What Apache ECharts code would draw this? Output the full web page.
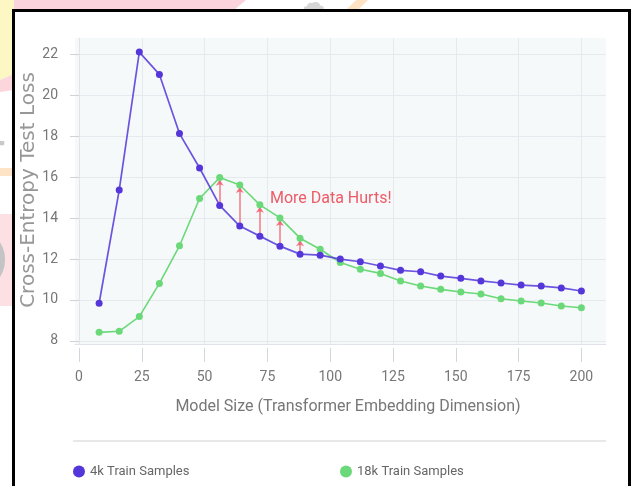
<!DOCTYPE html>
<html>
<head>
<meta charset="utf-8">
<script src="https://cdn.jsdelivr.net/npm/echarts@6/dist/echarts.min.js"></script>
<style>
  html, body { margin: 0; padding: 0; background: #ffffff; }
  #chart { width: 632px; height: 486px; }
</style>
</head>
<body>
<div id="chart"></div>
<script>
// Model size (embedding dimension) for each run
const modelSize = [8, 16, 24, 32, 40, 48, 56, 64, 72, 80, 88, 96, 104, 112, 120, 128, 136, 144, 152, 160, 168, 176, 184, 192, 200];
// Test loss, 4k training samples
const loss4k = [9.84, 15.37, 22.11, 21.02, 18.13, 16.45, 14.62, 13.61, 13.12, 12.63, 12.24, 12.19, 12.0, 11.87, 11.66, 11.45, 11.38, 11.17, 11.06, 10.93, 10.83, 10.73, 10.68, 10.59, 10.44];
// Test loss, 18k training samples
const loss18k = [8.42, 8.47, 9.19, 10.81, 12.65, 14.96, 15.98, 15.62, 14.65, 14.01, 13.02, 12.48, 11.83, 11.5, 11.3, 10.93, 10.68, 10.52, 10.39, 10.29, 10.06, 9.95, 9.85, 9.71, 9.62];
// Axis tick labels
const xTicks = [0, 25, 50, 75, 100, 125, 150, 175, 200];
const yTicks = [8, 10, 12, 14, 16, 18, 20, 22];
// Runs where the larger training set gives a higher loss
const hurtIndex = [6, 7, 8, 9, 10];

const FONT = "'Roboto', sans-serif";
const BLUE = '#5537d9';
const GREEN = '#6bd979';

const arrows = hurtIndex.map(i => ({
  coords: [[modelSize[i], loss4k[i]], [modelSize[i], loss18k[i] - 0.1]]
}));

const chart = echarts.init(document.getElementById('chart'), null, { renderer: 'canvas' });

chart.setOption({
  animation: false,
  backgroundColor: '#ffffff',
  graphic: [
    // page decoration behind the framed chart
    { type: 'polygon', z: -10, shape: { points: [[0, 0], [246, 0], [234, 10], [0, 10]] }, style: { fill: '#fbd3dc' } },
    { type: 'polygon', z: -10, shape: { points: [[0, 0], [14, 0], [14, 74], [0, 80]] }, style: { fill: '#fdf7c4' } },
    { type: 'polygon', z: -10, shape: { points: [[0, 80], [14, 74], [14, 90], [0, 92]] }, style: { fill: '#fbd6dc' } },
    { type: 'polygon', z: -10, shape: { points: [[346, 10], [356, 0], [368, 0], [358, 10]] }, style: { fill: '#fde3c4' } },
    { type: 'text', z: -9, left: 298, top: -9, style: { text: '☁', fontSize: 28, fill: '#d6d6d6', fontFamily: 'DejaVu Sans' } },
    { type: 'rect', z: -10, shape: { x: 0, y: 168, width: 14, height: 8 }, style: { fill: '#fde4c6' } },
    { type: 'text', z: -9, left: -30, top: 106, style: { text: '4', fontSize: 62, fill: '#c9c9c9', fontFamily: 'Lato' } },
    { type: 'rect', z: -10, shape: { x: 0, y: 214, width: 14, height: 92 }, style: { fill: '#fde0e4' } },
    { type: 'text', z: -9, left: -52, top: 222, style: { text: 'D', fontSize: 80, fill: '#c4c4c4', fontFamily: 'Lato' } },
    // white framed panel
    { type: 'rect', z: -5, shape: { x: 13.5, y: 10.5, width: 616, height: 490 }, style: { fill: '#ffffff', stroke: '#000000', lineWidth: 3 } },
    // axis titles
    {
      type: 'text', z: 5, x: 29, y: 190, rotation: Math.PI / 2,
      style: { text: 'Cross-Entropy Test Loss', align: 'center', verticalAlign: 'middle', fill: '#979797', fontSize: 20, fontFamily: 'DejaVu Sans' }
    },
    {
      type: 'text', z: 5, x: 348, y: 407,
      style: { text: 'Model Size (Transformer Embedding Dimension)', align: 'center', verticalAlign: 'middle', fill: '#777777', fontSize: 16, fontFamily: FONT }
    },
    // separator above the legend
    { type: 'line', z: 5, shape: { x1: 73, y1: 441, x2: 606, y2: 441 }, style: { stroke: '#e8e8e8', lineWidth: 2 } }
  ],
  grid: {
    left: 75, right: 26, top: 38, bottom: 142,
    show: true, backgroundColor: '#f5f9fa', borderWidth: 0
  },
  legend: [
    {
      data: ['4k Train Samples'], left: 73, top: 465, padding: 0,
      icon: 'circle', itemWidth: 12, itemHeight: 12,
      textStyle: { color: '#666666', fontSize: 13, fontFamily: FONT }
    },
    {
      data: ['18k Train Samples'], left: 340, top: 465, padding: 0,
      icon: 'circle', itemWidth: 12, itemHeight: 12,
      textStyle: { color: '#666666', fontSize: 13, fontFamily: FONT }
    }
  ],
  xAxis: [
    {
      type: 'value', min: -1.6, max: 209.8, offset: 4,
      axisLine: { show: false },
      axisTick: { show: true, length: 14, customValues: xTicks, lineStyle: { color: '#d3d7db' } },
      axisLabel: { customValues: xTicks, margin: 22, color: '#777777', fontSize: 14, fontFamily: FONT },
      splitLine: { show: true, lineStyle: { color: '#e6eaee' } }
    },
    {
      type: 'value', min: -1.6, max: 209.8, position: 'bottom',
      axisLine: { show: true, lineStyle: { color: '#e0e4e8' } },
      axisTick: { show: false }, axisLabel: { show: false }, splitLine: { show: false }
    }
  ],
  yAxis: {
    type: 'value', min: 7.85, max: 22.8,
    axisLine: { show: true, lineStyle: { color: '#e0e4e8' } },
    axisTick: { show: true, length: 9, customValues: yTicks, lineStyle: { color: '#cfd3d7' } },
    axisLabel: { customValues: yTicks, margin: 17, color: '#777777', fontSize: 14, fontFamily: FONT },
    splitLine: { show: true, lineStyle: { color: '#e6eaee' } }
  },
  series: [
    {
      type: 'lines', coordinateSystem: 'cartesian2d', z: 1,
      data: arrows,
      symbol: ['none', 'arrow'], symbolSize: 6,
      lineStyle: { color: '#f0616e', width: 1.5, opacity: 0.85 },
      silent: true
    },
    {
      name: '4k Train Samples', type: 'line', z: 3,
      data: modelSize.map((x, i) => [x, loss4k[i]]),
      symbol: 'circle', symbolSize: 7, showSymbol: true,
      itemStyle: { color: BLUE },
      lineStyle: { color: BLUE, width: 1.7, opacity: 0.85 },
      markPoint: {
        symbol: 'circle', symbolSize: 0,
        data: [{
          coord: [76, 14.93],
          label: {
            show: true, position: 'right', distance: 0,
            formatter: 'More Data Hurts!',
            color: '#ee5a66', fontSize: 16, fontFamily: FONT
          }
        }]
      }
    },
    {
      name: '18k Train Samples', type: 'line', z: 2,
      data: modelSize.map((x, i) => [x, loss18k[i]]),
      symbol: 'circle', symbolSize: 7, showSymbol: true,
      itemStyle: { color: GREEN },
      lineStyle: { color: GREEN, width: 1.6 }
    }
  ]
});
</script>
</body>
</html>
